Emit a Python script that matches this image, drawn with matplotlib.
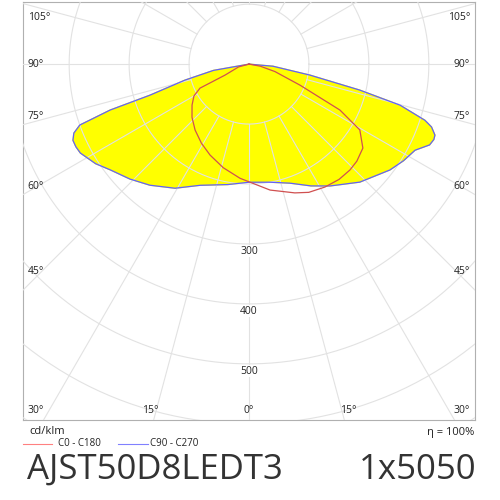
import numpy as np
import matplotlib.pyplot as plt

# gamma angle (deg from nadir, signed) and intensity cd/klm
c90_angle = [-90, -80, -76, -72.6, -71.7, -70.2, -68.5, -66.6, -64.5, -62.2, -57, -52.7, -46, -39.3,
             -30.8, -22, -10, 0, 10, 19, 27, 33.6, 43.2, 53.1, 58, 62.6, 65.9, 67.8, 69.1, 71,
             72.3, 74.8, 76.8, 79.8, 85, 90]
c90_value = [0, 60, 110, 173, 244, 300, 314, 320, 320, 318, 305, 291, 276, 261,
             241, 218, 204, 197, 200, 210, 228, 244, 270, 294, 304, 312, 330, 333, 332, 322,
             308, 261, 190, 103, 40, 0]
c0_angle = [-90, -75, -65.4, -63.9, -60, -54.3, -47, -39.3, -31, -23.2, -14, -4.5, 9.5, 19.6,
            25, 31.7, 38, 43.6, 48, 53.6, 59.3, 63.2, 67.6, 74, 79.7, 90]
c0_value = [0, 18, 44, 91, 106, 117, 130, 142, 154, 165, 178, 191, 213, 228,
            236, 241, 244, 244, 242, 236, 215, 170, 92, 45, 19, 0]

rings = [100, 200, 300, 400, 500, 600, 700, 800]
ring_labels = [300, 400, 500]
spoke_angles = list(range(-180, 180, 15))
XL, XR, YB, YT = -377, 377, -593, 103

plt.rcParams['font.family'] = ['Open Sans', 'DejaVu Sans']


def to_xy(ang, val):
    a = np.radians(ang)
    v = np.asarray(val, float)
    return v * np.sin(a), -v * np.cos(a)


fig = plt.figure(figsize=(5, 5), dpi=100)
ax = fig.add_axes([0.046, 0.16, 0.904, 0.836])
ax.set_xlim(XL, XR)
ax.set_ylim(YB, YT)
ax.set_aspect('equal')
ax.set_xticks([])
ax.set_yticks([])
for s in ax.spines.values():
    s.set_color('#b0b0b0')

grid_c = '#e2e2e2'
t = np.linspace(0, 2 * np.pi, 400)
for r in rings:
    ax.plot(r * np.cos(t), r * np.sin(t), color=grid_c, lw=0.8, zorder=3)
for a in spoke_angles:
    x, y = to_xy([a, a], [100, 1000])
    ax.plot(x, y, color=grid_c, lw=0.8, zorder=3)

x, y = to_xy(c90_angle, c90_value)
ax.fill(x, y, color='#ffff00', zorder=2)
ax.plot(x, y, color='#6060ff', lw=0.9, zorder=4)
x, y = to_xy(c0_angle, c0_value)
ax.plot(x, y, color='#d05050', lw=0.9, zorder=4)

for r in ring_labels:
    ax.text(0, -r - 3, str(r), ha='center', va='top', fontsize=7.5, color='#222',
            bbox=dict(fc='white', ec='none', pad=0.5), zorder=5)

# angle labels on the frame
side_offsets = {105: -14, 90: 0, 75: 4, 60: 4, 45: 22}
for a, off in side_offsets.items():
    yd = -(XR / np.tan(np.radians(a)))
    va = 'top' if a > 90 else ('center' if a == 90 else 'bottom')
    for side in (-1, 1):
        ax.text(side * (XR - 8), yd + off, f'{a}°',
                ha='right' if side > 0 else 'left', va=va, fontsize=7.5, color='#222', zorder=5)
for a in [0, 15]:
    xd = -YB * np.tan(np.radians(a))
    for side in ((1,) if a == 0 else (-1, 1)):
        ax.text(side * xd - (6 if side < 0 else -6) * (a > 0), YB + 6, f'{a}°', ha='center',
                va='bottom', fontsize=7.5, color='#222', zorder=5)
ax.text(XL + 8, YB + 6, '30°', ha='left', va='bottom', fontsize=7.5, color='#222')
ax.text(XR - 8, YB + 6, '30°', ha='right', va='bottom', fontsize=7.5, color='#222')

fig.text(0.058, 0.136, 'cd/klm', fontsize=8, color='#222', va='center')
fig.text(0.948, 0.136, 'η = 100%', fontsize=8, color='#222', va='center', ha='right')
fig.add_artist(plt.Line2D([0.046, 0.104], [0.112, 0.112], color='#ff8080', lw=0.8))
fig.text(0.116, 0.112, 'C0 - C180', fontsize=7, color='#222', va='center')
fig.add_artist(plt.Line2D([0.236, 0.296], [0.112, 0.112], color='#8080ff', lw=0.8))
fig.text(0.300, 0.112, 'C90 - C270', fontsize=7, color='#222', va='center')
fig.text(0.054, 0.06, 'AJST50D8LEDT3', fontsize=25, color='#333', va='center')
fig.text(0.952, 0.06, '1x5050', fontsize=25, color='#333', va='center', ha='right')

fig.savefig('out.png', dpi=100, facecolor='white')
